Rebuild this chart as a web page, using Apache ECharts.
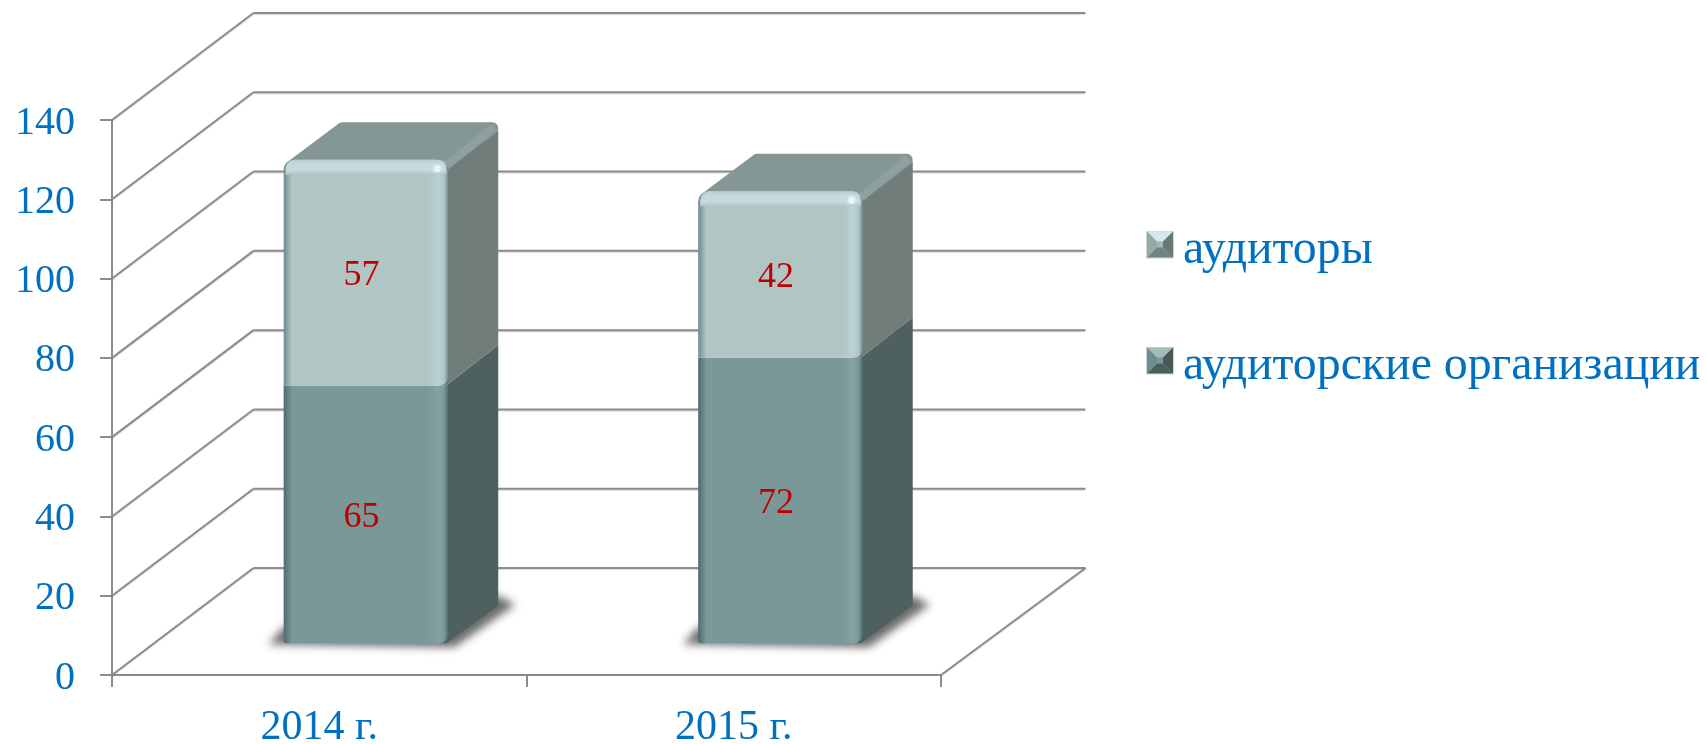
<!DOCTYPE html>
<html>
<head>
<meta charset="utf-8">
<style>html,body{margin:0;padding:0;background:#fff}#main{width:1706px;height:744px}</style>
<script src="https://cdn.jsdelivr.net/npm/echarts@6/dist/echarts.min.js"></script>
</head>
<body>
<div id="main"></div>
<script>
// данные диаграммы
var categories = ['2014 г.', '2015 г.'];
var organizations = [65, 72];
var auditors = [57, 42];
var yTicks = [0, 20, 40, 60, 80, 100, 120, 140];
var orgName = 'аудиторские организации';
var audName = 'аудиторы';

var FONT = '"Liberation Serif", "Times New Roman", serif';
var BLUE = '#0070C0';
var GRID_COLOR = '#8c8c8c';

// псевдо-3D: смещения стенки и столбца, px
var WALL_DX = 141.5, WALL_DY = 107, WALL_RIGHT = 3;
var BAR_SHIFT_X = 46.7, BAR_SHIFT_Y = 31.7;
var BAR_DX = 50, BAR_DY = 37.5;
var BAR_RATIO = 0.397;
var SIDE_JOINT = 3; // стык сегментов на боковой грани чуть выше

var lightPal = {
	front: '#B1C5C5', side: '#707D7B', top: '#849695', edge: '#6f8c8e',
	strip: '#BBD2D6', highlight: '#C4DADD', topEdge: '#8fa19f', spot: '#E9F6F7'
};
var darkPal = {
	front: '#7B9899', side: '#4F615F', edge: '#4f6a6c', strip: '#84A2A5'
};

// значок легенды: рамка 28x28 вверху, снизу пустая полоса, чтобы текст стоял чуть ниже значка
function bevelIcon(a, b, c, d, m) {
	var svg = '<svg xmlns="http://www.w3.org/2000/svg" width="28" height="40">' +
		'<rect width="28" height="28" fill="#d4d4d4"/>' +
		'<polygon points="1,1 27,1 14,14" fill="' + a + '"/>' +
		'<polygon points="1,1 14,14 1,27" fill="' + b + '"/>' +
		'<polygon points="27,1 14,14 27,27" fill="' + c + '"/>' +
		'<polygon points="1,27 14,14 27,27" fill="' + d + '"/>' +
		'<rect x="11" y="11" width="6" height="6" fill="' + m + '"/></svg>';
	return 'image://data:image/svg+xml;charset=utf-8,' + encodeURIComponent(svg);
}

function renderWall(params, api) {
	var p = api.coord([0, api.value(1)]);
	var x0 = params.coordSys.x;
	var x1 = x0 + params.coordSys.width;
	var style = { stroke: GRID_COLOR, lineWidth: 2, shadowColor: 'rgba(0,0,0,0.15)', shadowBlur: 1, shadowOffsetY: 1 };
	var yBack = p[1] - WALL_DY;
	var kids = [
		{ type: 'line', shape: { x1: x0, y1: p[1], x2: x0 + WALL_DX, y2: yBack }, style: style },
		{ type: 'line', shape: { x1: x0 + WALL_DX, y1: yBack, x2: x1 + WALL_DX + WALL_RIGHT, y2: yBack }, style: style }
	];
	if (api.value(1) === 0) {
		kids.push({ type: 'line', shape: { x1: x1, y1: p[1], x2: x1 + WALL_DX + WALL_RIGHT, y2: yBack }, style: style });
	}
	return { type: 'group', children: kids };
}

function frontGradient(pal) {
	return {
		type: 'linear', x: 0, y: 0, x2: 1, y2: 0,
		colorStops: [
			{ offset: 0, color: pal.edge },
			{ offset: 0.05, color: pal.front },
			{ offset: 0.88, color: pal.front },
			{ offset: 0.94, color: pal.strip },
			{ offset: 0.975, color: pal.front },
			{ offset: 1, color: pal.edge }
		]
	};
}

function renderBar(pal, isUpper) {
	return function (params, api) {
		var base = api.value(2);
		var val = api.value(1);
		var w = api.size([1, 0])[0] * BAR_RATIO;
		var pBot = api.coord([api.value(0), base]);
		var pTop = api.coord([api.value(0), base + val]);
		var xl = pBot[0] + BAR_SHIFT_X - w / 2;
		var xr = xl + w;
		var yb = pBot[1] - BAR_SHIFT_Y;
		var yt = pTop[1] - BAR_SHIFT_Y;
		var kids = [];

		if (!isUpper) {
			// мягкая тень на полу: сам многоугольник за краем холста, видна только тень
			var off = 3000;
			kids.push({
				type: 'polygon',
				shape: { points: [
					[xl - 15 - off, yb + 1], [xl - off, yb - 16], [xr + BAR_DX - off, yb - BAR_DY - 10],
					[xr + BAR_DX + 17 - off, yb - BAR_DY - 1], [xr + 6 - off, yb + 4]
				] },
				style: { fill: '#000', shadowColor: 'rgba(70,70,70,0.8)', shadowBlur: 9, shadowOffsetX: off, shadowOffsetY: 0 }
			});
		}

		// боковая грань
		var sideInset = isUpper ? 8 : -SIDE_JOINT;
		var sideFoot = isUpper ? SIDE_JOINT : 0;
		kids.push({
			type: 'polygon',
			shape: { points: [[xr - 10, yb], [xr - 2, yb], [xr + BAR_DX, yb - BAR_DY - sideFoot], [xr + BAR_DX, yt - BAR_DY + sideInset], [xr - 2, yt + Math.max(sideInset, 0)]] },
			style: { fill: pal.side }
		});

		if (isUpper) {
			// верхняя грань, скругление через толстую обводку
			kids.push({
				type: 'polygon',
				shape: { points: [[xl + 9, yt + 6], [xr - 6, yt + 6], [xr + BAR_DX - 6, yt - BAR_DY + 6], [xl + BAR_DX + 9, yt - BAR_DY + 6]] },
				style: { fill: pal.top, stroke: pal.top, lineWidth: 12, lineJoin: 'round' }
			});
			kids.push({
				type: 'line',
				shape: { x1: xr - 3, y1: yt + 7, x2: xr + BAR_DX - 7, y2: yt - BAR_DY + 7 },
				style: { stroke: pal.topEdge, lineWidth: 8, lineCap: 'round' }
			});
		}

		// передняя грань
		kids.push({
			type: 'rect',
			shape: { x: xl, y: yt, width: w, height: yb - yt, r: isUpper ? [10, 10, 9, 0] : [0, 0, 9, 2] },
			style: { fill: frontGradient(pal) }
		});

		if (isUpper) {
			kids.push({
				type: 'rect',
				shape: { x: xl + 2, y: yt, width: w - 4, height: 15, r: [10, 10, 0, 0] },
				style: {
					fill: {
						type: 'linear', x: 0, y: 0, x2: 0, y2: 1,
						colorStops: [
							{ offset: 0, color: '#B7CDD0' },
							{ offset: 0.3, color: pal.highlight },
							{ offset: 0.7, color: pal.highlight },
							{ offset: 1, color: pal.front }
						]
					}
				}
			});
			kids.push({
				type: 'circle',
				shape: { cx: xr - 11, cy: yt + 9, r: 3.5 },
				style: { fill: pal.spot, shadowColor: pal.spot, shadowBlur: 4 }
			});
		}

		kids.push({
			type: 'text',
			z2: 10,
			style: {
				x: xl + w / 2 - 4.5,
				y: (yt + yb) / 2 + 3,
				text: String(val),
				fill: '#C00000',
				font: '36px ' + FONT,
				align: 'center',
				verticalAlign: 'middle'
			}
		});
		return { type: 'group', children: kids };
	};
}

var chart = echarts.init(document.getElementById('main'));

var option = {
	animation: false,
	backgroundColor: '#fff',
	grid: { left: 112, top: 120, width: 829, height: 555, outerBoundsMode: 'none' },
	xAxis: {
		type: 'category',
		data: categories,
		axisLine: { lineStyle: { color: GRID_COLOR, width: 2 } },
		axisTick: { show: true, length: 12, lineStyle: { color: GRID_COLOR, width: 2 } },
		axisLabel: { color: BLUE, fontFamily: FONT, fontSize: 42, margin: 32 }
	},
	yAxis: {
		type: 'value',
		min: 0,
		max: 140,
		interval: 20,
		splitLine: { show: false },
		axisLine: { show: true, lineStyle: { color: GRID_COLOR, width: 2 } },
		axisTick: { show: true, length: 12, lineStyle: { color: GRID_COLOR, width: 2 } },
		axisLabel: {
			margin: 37,
			formatter: '{n|{value}}',
			rich: { n: { color: BLUE, fontFamily: FONT, fontSize: 40, padding: [6, 0, 0, 0] } }
		}
	},
	legend: {
		orient: 'vertical',
		left: 1146,
		top: 226.5,
		padding: 0,
		itemWidth: 28,
		itemHeight: 40,
		itemGap: 68,
		selectedMode: false,
		textStyle: { color: BLUE, fontFamily: FONT, fontSize: 47.8, padding: [0, 0, 0, 4] },
		data: [
			{ name: audName, icon: bevelIcon('#d3e8e8', '#94a9a9', '#667877', '#6f8383', '#a3b8b8') },
			{ name: orgName, icon: bevelIcon('#a3bdbd', '#6f8c8c', '#465858', '#4b5f5f', '#7b9899') }
		]
	},
	series: [
		{
			name: 'wall',
			type: 'custom',
			renderItem: renderWall,
			silent: true,
			clip: false,
			z: 1,
			encode: { x: 0, y: 1 },
			data: yTicks.map(function (v) { return [0, v]; })
		},
		{
			name: orgName,
			type: 'custom',
			renderItem: renderBar(darkPal, false),
			clip: false,
			z: 3,
			encode: { x: 0, y: 1 },
			itemStyle: { color: darkPal.front },
			data: organizations.map(function (v, i) { return [i, v, 0]; })
		},
		{
			name: audName,
			type: 'custom',
			renderItem: renderBar(lightPal, true),
			clip: false,
			z: 4,
			encode: { x: 0, y: 1 },
			itemStyle: { color: lightPal.front },
			data: auditors.map(function (v, i) { return [i, v, organizations[i]]; })
		}
	]
};

chart.setOption(option);
</script>
</body>
</html>
